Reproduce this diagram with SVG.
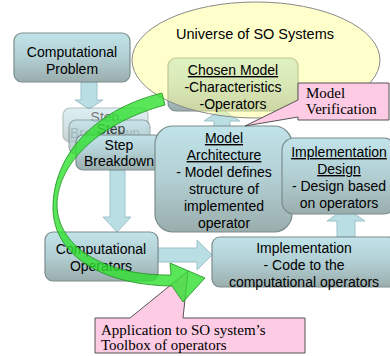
<svg xmlns="http://www.w3.org/2000/svg" width="390" height="356" viewBox="0 0 390 356">
<defs>
<linearGradient id="box" x1="0" y1="0" x2="0" y2="1">
<stop offset="0" stop-color="#c0e3e9"/>
<stop offset="0.5" stop-color="#b2cfd3"/>
<stop offset="1" stop-color="#9aadad"/>
</linearGradient>
</defs>
<style>
.box{fill:url(#box);stroke:#7c8c8c;stroke-width:1.2}
.arr{fill:#b9dfe5;stroke:#9cc2c8;stroke-width:1}
.t{font-family:"Liberation Sans",Arial,sans-serif;font-size:14px;fill:#000;text-anchor:middle}
.u{text-decoration:underline}
.s{font-family:"Liberation Serif","Times New Roman",serif;font-size:15px;fill:#000}
.call{fill:#fdcbe3;stroke:#555;stroke-width:1}
.green{fill:#2fe02f;fill-opacity:0.8;stroke:#1f8f1f;stroke-width:0.8}
</style>
<g id="connectors">
<path class="arr" d="M81,82 H97 V100 H103 L89,109 L75,100 H81 Z"/>
<path class="arr" d="M110,170 H125 V217 H131 L117,232 L103,217 H110 Z"/>
<path class="arr" d="M158,248 H197 V240 L212,255 L197,270 V262 H158 Z"/>
<path class="arr" d="M214,128 V121 H204 L222,109 L240,121 H230 V128 Z"/>
<path class="arr" d="M337,237 V221 H327 L346,208 L365,221 H355 V237 Z"/>
</g>
<g id="computational-problem">
<rect class="box" x="14" y="33" width="116" height="49" rx="8"/>
<text class="t" x="72" y="57">Computational</text>
<text class="t" x="72" y="74">Problem</text>
</g>
<g id="step-breakdown-1" opacity="0.55">
<rect class="box" x="63" y="108" width="85" height="34" rx="7"/>
<text class="t" x="105" y="122">Step</text>
<text class="t" x="105" y="138">Breakdown</text>
</g>
<g id="step-breakdown-2" opacity="0.7">
<rect class="box" x="69" y="120" width="81" height="34" rx="7"/>
<text class="t" x="111" y="134">Step</text>
<text class="t" x="111" y="151">Breakdown</text>
</g>
<g id="step-breakdown-3">
<rect class="box" x="76" y="135" width="86" height="35" rx="7"/>
<text class="t" x="119" y="150">Step</text>
<text class="t" x="119" y="166">Breakdown</text>
</g>
<g id="chosen-model">
<rect class="box" x="168" y="58" width="130" height="53" rx="8"/>
</g>
<g id="universe">
<ellipse cx="256" cy="60" rx="124" ry="58" fill="#ffff99" fill-opacity="0.5" stroke="#8a8a8a" stroke-width="1"/>
<text class="t" x="255" y="39" style="font-size:14.5px">Universe of SO Systems</text>
</g>
<g id="chosen-model-text">
<text class="t u" x="233" y="75">Chosen Model</text>
<text class="t" x="233" y="92">-Characteristics</text>
<text class="t" x="233" y="109">-Operators</text>
</g>
<g id="model-architecture">
<rect class="box" x="155" y="126" width="137" height="106" rx="18"/>
<text class="t u" x="224" y="143">Model</text>
<text class="t u" x="224" y="160">Architecture</text>
<text class="t" x="224" y="177">- Model defines</text>
<text class="t" x="224" y="194">structure of</text>
<text class="t" x="224" y="211">implemented</text>
<text class="t" x="224" y="228">operator</text>
</g>
<g id="implementation-design">
<rect class="box" x="282" y="138" width="114" height="76" rx="12"/>
<text class="t u" x="339" y="157">Implementation</text>
<text class="t u" x="339" y="174">Design</text>
<text class="t" x="339" y="191">- Design based</text>
<text class="t" x="339" y="208">on operators</text>
</g>
<g id="computational-operators">
<rect class="box" x="45" y="232" width="113" height="49" rx="8"/>
<text class="t" x="101" y="254">Computational</text>
<text class="t" x="101" y="271">Operators</text>
</g>
<g id="implementation">
<rect class="box" x="212" y="237" width="184" height="50" rx="8"/>
<text class="t" x="304" y="253">Implementation</text>
<text class="t" x="304" y="270">- Code to the</text>
<text class="t" x="304" y="287">computational operators</text>
</g>
<g id="model-verification">
<path class="call" d="M298,83 H389 V120 H298 V117 L245,126 L298,100 Z"/>
<text class="s" x="306" y="98">Model</text>
<text class="s" x="306" y="114">Verification</text>
</g>
<g id="application-callout">
<path class="call" d="M95,318 H130 L188,271 L183,318 H305 V353 H95 Z"/>
<text class="s" x="101" y="335">Application to SO system’s</text>
<text class="s" x="101" y="350">Toolbox of operators</text>
</g>
<g id="green-arrow">
<path class="green" d="M162,93 C100,108 55,150 53,205 C51,250 95,285 172,286 L183,302 L205,278 L170,263 L171,275 C110,276 58,250 57,205 C58,160 103,122 165,105 Z"/>
</g>
</svg>
